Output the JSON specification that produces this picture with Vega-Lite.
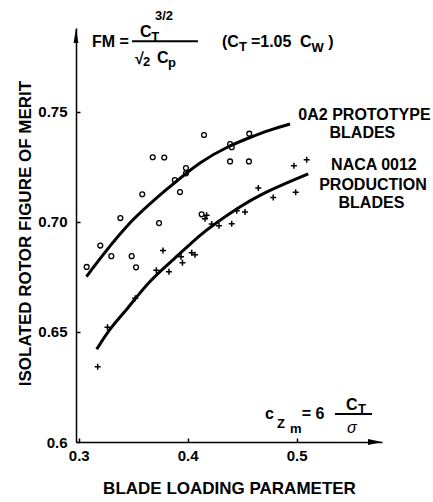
{
  "$schema": "https://vega.github.io/schema/vega-lite/v6.json",
  "width": 306,
  "height": 414,
  "autosize": {"type": "none"},
  "padding": {"left": 76, "top": 28, "right": 51, "bottom": 60},
  "background": "white",
  "config": {
    "font": "Liberation Sans",
    "view": {"stroke": null},
    "axis": {
      "domainColor": "black",
      "domainWidth": 1.5,
      "tickColor": "black",
      "tickWidth": 1.5,
      "tickSize": -4,
      "grid": false,
      "labelFont": "Liberation Sans",
      "labelFontWeight": "bold",
      "labelFontSize": 15,
      "labelColor": "black",
      "titleFont": "Liberation Sans",
      "titleFontWeight": "bold",
      "titleFontSize": 17,
      "titleColor": "black"
    }
  },
  "datasets": {
    "oa2": [
      {"loading": 0.3073, "fm": 0.6795},
      {"loading": 0.3198, "fm": 0.6892},
      {"loading": 0.3299, "fm": 0.6844},
      {"loading": 0.3382, "fm": 0.7017},
      {"loading": 0.3486, "fm": 0.6844},
      {"loading": 0.3526, "fm": 0.6793},
      {"loading": 0.3583, "fm": 0.7125},
      {"loading": 0.3679, "fm": 0.7293},
      {"loading": 0.3785, "fm": 0.7292},
      {"loading": 0.3737, "fm": 0.6994},
      {"loading": 0.3882, "fm": 0.7189},
      {"loading": 0.3929, "fm": 0.7135},
      {"loading": 0.3984, "fm": 0.7220},
      {"loading": 0.3984, "fm": 0.7244},
      {"loading": 0.4150, "fm": 0.7394},
      {"loading": 0.4128, "fm": 0.7034},
      {"loading": 0.4389, "fm": 0.7353},
      {"loading": 0.4404, "fm": 0.7339},
      {"loading": 0.4389, "fm": 0.7274},
      {"loading": 0.4562, "fm": 0.7274},
      {"loading": 0.4565, "fm": 0.7400}
    ],
    "naca": [
      {"loading": 0.3174, "fm": 0.6342},
      {"loading": 0.3264, "fm": 0.6521},
      {"loading": 0.3519, "fm": 0.6653},
      {"loading": 0.3712, "fm": 0.6780},
      {"loading": 0.3828, "fm": 0.6773},
      {"loading": 0.3773, "fm": 0.6870},
      {"loading": 0.3952, "fm": 0.6814},
      {"loading": 0.3939, "fm": 0.6841},
      {"loading": 0.4037, "fm": 0.6859},
      {"loading": 0.4067, "fm": 0.6850},
      {"loading": 0.4174, "fm": 0.7030},
      {"loading": 0.4159, "fm": 0.7014},
      {"loading": 0.4220, "fm": 0.6990},
      {"loading": 0.4287, "fm": 0.6982},
      {"loading": 0.4404, "fm": 0.6991},
      {"loading": 0.4450, "fm": 0.7050},
      {"loading": 0.4526, "fm": 0.7044},
      {"loading": 0.4648, "fm": 0.7153},
      {"loading": 0.4785, "fm": 0.7110},
      {"loading": 0.4991, "fm": 0.7134},
      {"loading": 0.4975, "fm": 0.7255},
      {"loading": 0.5092, "fm": 0.7282}
    ],
    "oa2_fit": [
      {"loading": 0.3071, "fm": 0.6751},
      {"loading": 0.3440, "fm": 0.6994},
      {"loading": 0.3838, "fm": 0.7160},
      {"loading": 0.4113, "fm": 0.7274},
      {"loading": 0.4388, "fm": 0.7347},
      {"loading": 0.4572, "fm": 0.7383},
      {"loading": 0.4755, "fm": 0.7418},
      {"loading": 0.4939, "fm": 0.7444}
    ],
    "naca_fit": [
      {"loading": 0.3165, "fm": 0.6421},
      {"loading": 0.3287, "fm": 0.6517},
      {"loading": 0.3440, "fm": 0.6600},
      {"loading": 0.3654, "fm": 0.6736},
      {"loading": 0.3868, "fm": 0.6827},
      {"loading": 0.4113, "fm": 0.6941},
      {"loading": 0.4235, "fm": 0.6986},
      {"loading": 0.4480, "fm": 0.7070},
      {"loading": 0.4694, "fm": 0.7130},
      {"loading": 0.4939, "fm": 0.7183},
      {"loading": 0.5106, "fm": 0.7218}
    ]
  },
  "encoding": {
    "x": {
      "field": "loading",
      "type": "quantitative",
      "scale": {"domain": [0.2975, 0.5783], "nice": false, "zero": false},
      "axis": {
        "values": [0.3, 0.4, 0.5],
        "format": ".1f",
        "labelPadding": 10,
        "title": "BLADE LOADING PARAMETER",
        "titleBaseline": "alphabetic",
        "titleY": 51
      }
    },
    "y": {
      "field": "fm",
      "type": "quantitative",
      "scale": {"domain": [0.6, 0.788], "nice": false, "zero": false},
      "axis": {
        "values": [0.6, 0.65, 0.7, 0.75],
        "labelExpr": "datum.value < 0.61 ? '0.6' : format(datum.value, '.2f')",
        "labelPadding": 13,
        "title": "ISOLATED ROTOR FIGURE OF MERIT",
        "titleAngle": -90,
        "titleBaseline": "middle",
        "titleX": -51,
        "titleY": 205
      }
    }
  },
  "layer": [
    {
      "data": {"name": "oa2_fit"},
      "mark": {"type": "line", "color": "black", "strokeWidth": 3, "interpolate": "basis"}
    },
    {
      "data": {"name": "naca_fit"},
      "mark": {"type": "line", "color": "black", "strokeWidth": 3, "interpolate": "basis"}
    },
    {
      "data": {"name": "oa2"},
      "mark": {"type": "point", "shape": "circle", "filled": false, "stroke": "black", "strokeWidth": 1.3, "size": 24, "opacity": 1}
    },
    {
      "data": {"name": "naca"},
      "mark": {"type": "point", "shape": "M-1,0H1M0,-1V1", "filled": false, "stroke": "black", "strokeWidth": 1.5, "size": 36, "opacity": 1}
    },
    {
      "data": {"values": [{"loading": 0.5783, "fm": 0.6}]},
      "mark": {"type": "point", "shape": "M-2.33,-0.5L0,0L-2.33,0.5Z", "filled": true, "color": "black", "size": 144, "opacity": 1}
    },
    {
      "data": {"values": [{"loading": 0.2975, "fm": 0.788}]},
      "mark": {"type": "point", "shape": "M-0.4,2.5L0,0L0.4,2.5Z", "filled": true, "color": "black", "size": 144, "opacity": 1}
    },
    {
      "data": {"values": [
        {"loading": 0.3489, "loading_end": 0.4094, "fm": 0.7820},
        {"loading": 0.5351, "loading_end": 0.5691, "fm": 0.6127}
      ]},
      "mark": {"type": "rule", "color": "black", "strokeWidth": 2},
      "encoding": {"x2": {"field": "loading_end"}}
    },
    {
      "data": {"values": [
        {"label": "FM =", "loading": 0.3122, "fm": 0.7795},
        {"label": "C", "loading": 0.3562, "fm": 0.7841},
        {"label": "√", "loading": 0.3516, "fm": 0.7718},
        {"label": "C", "loading": 0.3718, "fm": 0.7723},
        {"label": "(C", "loading": 0.4314, "fm": 0.7795},
        {"label": "=1.05", "loading": 0.4580, "fm": 0.7795},
        {"label": "C", "loading": 0.5030, "fm": 0.7795},
        {"label": ")", "loading": 0.5290, "fm": 0.7795},
        {"label": "c", "loading": 0.4709, "fm": 0.6105},
        {"label": "= 6", "loading": 0.5046, "fm": 0.6105},
        {"label": "C", "loading": 0.5452, "fm": 0.6145}
      ]},
      "mark": {"type": "text", "align": "left", "baseline": "alphabetic", "fontSize": 16, "fontWeight": "bold", "color": "black"},
      "encoding": {"text": {"field": "label"}}
    },
    {
      "data": {"values": [
        {"label": "T", "loading": 0.3665, "fm": 0.7821},
        {"label": "3/2", "loading": 0.3700, "fm": 0.7918},
        {"label": "2", "loading": 0.3590, "fm": 0.7709},
        {"label": "p", "loading": 0.3820, "fm": 0.7705},
        {"label": "T", "loading": 0.4470, "fm": 0.7777},
        {"label": "W", "loading": 0.5135, "fm": 0.7773},
        {"label": "Z", "loading": 0.4819, "fm": 0.6064},
        {"label": "m", "loading": 0.4938, "fm": 0.6041},
        {"label": "T", "loading": 0.5562, "fm": 0.6132}
      ]},
      "mark": {"type": "text", "align": "left", "baseline": "alphabetic", "fontSize": 13, "fontWeight": "bold", "color": "black"},
      "encoding": {"text": {"field": "label"}}
    },
    {
      "data": {"values": [
        {"label": "σ", "loading": 0.5461, "fm": 0.6041}
      ]},
      "mark": {"type": "text", "align": "left", "baseline": "alphabetic", "fontSize": 16, "fontStyle": "italic", "color": "black"},
      "encoding": {"text": {"field": "label"}}
    },
    {
      "data": {"values": [
        {"label": "0A2 PROTOTYPE", "loading": 0.5622, "fm": 0.7464},
        {"label": "BLADES", "loading": 0.5603, "fm": 0.7382},
        {"label": "NACA 0012", "loading": 0.5709, "fm": 0.7236},
        {"label": "PRODUCTION", "loading": 0.5700, "fm": 0.7145},
        {"label": "BLADES", "loading": 0.5686, "fm": 0.7064}
      ]},
      "mark": {"type": "text", "align": "center", "baseline": "alphabetic", "fontSize": 16, "fontWeight": "bold", "color": "black"},
      "encoding": {"text": {"field": "label"}}
    }
  ]
}
